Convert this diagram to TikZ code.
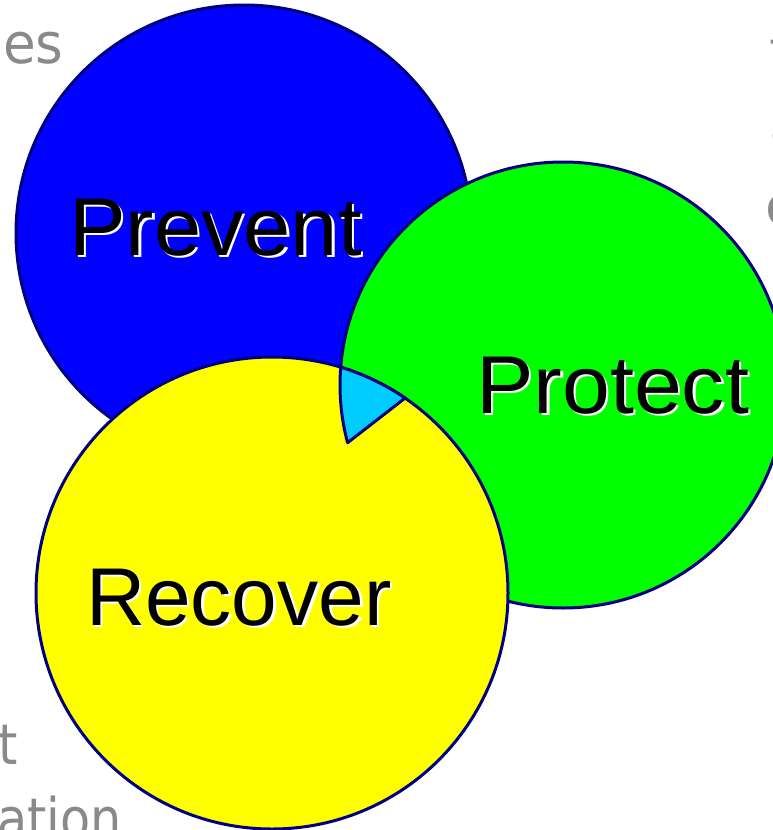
\documentclass[tikz,border=0pt]{standalone}
\usepackage{fontspec}
\setmainfont{Liberation Sans}
\newfontfamily\grayfont{DejaVu Sans}
\definecolor{edgenavy}{RGB}{0,0,128}
\definecolor{cblue}{RGB}{0,0,255}
\definecolor{cgreen}{RGB}{0,255,0}
\definecolor{cyellow}{RGB}{255,255,0}
\definecolor{ccyan}{RGB}{0,204,255}
\definecolor{textgray}{RGB}{138,138,138}
\tikzset{
  disc/.style={circle, draw=edgenavy, line width=3pt, inner sep=0pt},
  lbl/.style={font=\fontsize{82}{82}\selectfont, inner sep=0pt, anchor=base west},
  lblshadow/.style={lbl, text=white},
  lbltext/.style={lbl, text=black},
  bgtext/.style={font=\grayfont\fontsize{56}{56}\selectfont, text=textgray, inner sep=0pt, anchor=base west}
}
\begin{document}
\begin{tikzpicture}[x=1pt,y=1pt]
\useasboundingbox (0,0) rectangle (773,-830);
\fill[white] (0,0) rectangle (773,-830);
% background text
\node[bgtext] (bges) at (3,-63) {\scalebox{0.95}[1]{es}};
\node[bgtext] (bgt) at (-2,-764) {\scalebox{0.88}[1]{t}};
\node[bgtext] (bgation) at (-3,-838) {\scalebox{0.88}[1]{ation}};
\node[bgtext] (bgdashA) at (768,-57) {–};
\node[bgtext] (bgdashB) at (770,-151) {–};
\node[bgtext] (bgc) at (765,-225) {c};
% circles
\node[disc, fill=cblue, minimum size=456pt] (prevent) at (244,-233) {};
\node[disc, fill=cgreen, minimum size=446pt] (protect) at (563,-385) {};
\node[disc, fill=cyellow, minimum size=472pt] (recover) at (272,-593) {};
% triple overlap
\filldraw[fill=ccyan, draw=edgenavy, line width=3pt, line join=round]
  (340.7,-367.2) arc[start angle=73.1, end angle=55.7, radius=236]
  -- (347.6,-442.7) arc[start angle=195, end angle=175.4, radius=223] -- cycle;
% labels
\node[lblshadow] (preventsh) at (71.5,-257.5) {\scalebox{1.035}[1]{Prevent}};
\node[lbltext] (preventlbl) at (69,-255) {\scalebox{1.035}[1]{Prevent}};
\node[lblshadow] (protectsh) at (478.5,-415.5) {\scalebox{1.05}[1]{Protect}};
\node[lbltext] (protectlbl) at (476,-413) {\scalebox{1.05}[1]{Protect}};
\node[lblshadow] (recoversh) at (88.5,-627.5) {\scalebox{1.0}[1]{Recover}};
\node[lbltext] (recoverlbl) at (86,-625) {\scalebox{1.0}[1]{Recover}};
\end{tikzpicture}
\end{document}
